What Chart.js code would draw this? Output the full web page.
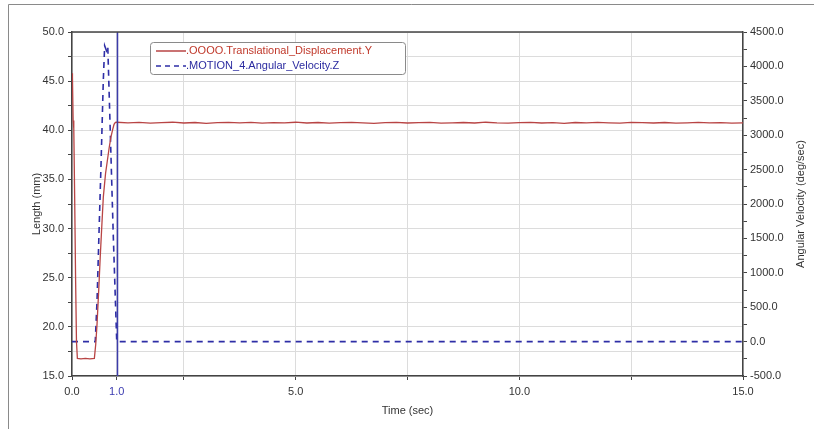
<!DOCTYPE html>
<html>
<head>
<meta charset="utf-8">
<script src="https://cdn.jsdelivr.net/npm/chart.js@4/dist/chart.umd.min.js"></script>
<style>
  html, body { margin: 0; padding: 0; background: #fff; }
  #wrap { position: relative; width: 814px; height: 429px; }
</style>
</head>
<body>
<div id="wrap"><canvas id="motionChart"></canvas></div>
<script>
// displacement (mm) vs time (sec)
const dispTime = [0, 0.01, 0.025, 0.04, 0.06, 0.08, 0.1, 0.12, 0.2, 0.3, 0.4, 0.5,
  0.53, 0.56, 0.6, 0.63, 0.67, 0.7, 0.75, 0.79, 0.83, 0.87, 0.91, 0.94, 0.97, 1.0,
  1.25, 1.5, 1.75, 2.0, 2.25, 2.5, 2.75, 3.0, 3.25, 3.5, 3.75, 4.0, 4.25, 4.5, 4.75, 5.0,
  5.25, 5.5, 5.75, 6.0, 6.25, 6.5, 6.75, 7.0, 7.25, 7.5, 7.75, 8.0, 8.25, 8.5, 8.75, 9.0,
  9.25, 9.5, 9.75, 10.0, 10.25, 10.5, 10.75, 11.0, 11.25, 11.5, 11.75, 12.0, 12.25, 12.5,
  12.75, 13.0, 13.25, 13.5, 13.75, 14.0, 14.25, 14.5, 14.75, 15.0];
const dispValue = [45.8, 45.4, 41.0, 40.2, 33.0, 25.0, 18.5, 16.8, 16.75, 16.8, 16.75, 16.8,
  18.2, 20.3, 24.0, 27.0, 30.6, 33.2, 35.6, 36.9, 38.2, 39.3, 40.1, 40.6, 40.8, 40.82,
  40.76, 40.8, 40.72, 40.78, 40.82, 40.74, 40.79, 40.71, 40.77, 40.81, 40.75, 40.8, 40.73, 40.78,
  40.76, 40.82, 40.74, 40.79, 40.72, 40.77, 40.8, 40.75, 40.71, 40.78, 40.81, 40.74, 40.77, 40.8,
  40.73, 40.76, 40.79, 40.74, 40.82, 40.75, 40.72, 40.78, 40.8, 40.74, 40.77, 40.71, 40.79, 40.75,
  40.81, 40.76, 40.73, 40.8, 40.77, 40.74, 40.79, 40.72, 40.76, 40.8, 40.75, 40.78, 40.73, 40.76];

// angular velocity (deg/sec) vs time (sec)
const velTime = [0, 0.52, 0.56, 0.6, 0.65, 0.7, 0.73, 0.77, 0.8, 0.84, 0.88, 0.92, 0.96, 1.0, 15.0];
const velValue = [0, 0, 600, 1500, 2600, 3800, 4300, 4230, 4290, 3400, 2500, 1600, 800, 0, 0];

const xTicks = [0, 1, 2.5, 5, 7.5, 10, 12.5, 15];
const xLabels = [0, 1, 5, 10, 15];
const cursorTime = 1.0;

const FONT = "'Liberation Sans', Arial, sans-serif";
const RED = '#b84444';
const BLUE = '#2e2ea6';

const toPoints = (xs, ys) => xs.map((x, i) => ({ x, y: ys[i] }));

const frameAndLegend = {
  id: 'frameAndLegend',
  beforeDraw(chart) {
    const c = chart.ctx;
    c.save();
    c.fillStyle = '#fff';
    c.fillRect(0, 0, chart.width, chart.height);
    c.strokeStyle = '#8a8a8a';
    c.lineWidth = 1;
    c.beginPath();
    c.moveTo(8.5, chart.height);
    c.lineTo(8.5, 4.5);
    c.lineTo(chart.width, 4.5);
    c.stroke();
    c.restore();
  },
  afterDatasetsDraw(chart) {
    const c = chart.ctx;
    const { top, bottom, left, right } = chart.chartArea;
    const x1 = Math.round(chart.scales.x.getPixelForValue(cursorTime)) + 0.5;
    c.save();
    // cursor line
    c.strokeStyle = '#3c3caa';
    c.lineWidth = 1.5;
    c.beginPath();
    c.moveTo(x1, top);
    c.lineTo(x1, bottom);
    c.stroke();
    // top border of plot
    c.strokeStyle = '#444';
    c.lineWidth = 1.5;
    c.beginPath();
    c.moveTo(left, top);
    c.lineTo(right, top);
    c.stroke();

    // legend box
    const bx = 150.5, by = 42.5, bw = 255, bh = 32;
    c.fillStyle = '#fff';
    c.strokeStyle = '#8a8a8a';
    c.lineWidth = 1;
    c.beginPath();
    c.roundRect(bx, by, bw, bh, 3);
    c.fill();
    c.stroke();
    c.font = '11px ' + FONT;
    c.textBaseline = 'middle';
    c.textAlign = 'left';
    c.strokeStyle = RED;
    c.lineWidth = 1.5;
    c.beginPath();
    c.moveTo(156, 51); c.lineTo(186, 51);
    c.stroke();
    c.fillStyle = '#c0392b';
    c.fillText('.OOOO.Translational_Displacement.Y', 186, 51);
    c.strokeStyle = BLUE;
    c.setLineDash([5, 4]);
    c.beginPath();
    c.moveTo(156, 66); c.lineTo(186, 66);
    c.stroke();
    c.setLineDash([]);
    c.fillStyle = '#2b2ba0';
    c.fillText('.MOTION_4.Angular_Velocity.Z', 186, 66);

    // right axis title, reading bottom to top
    c.translate(801, (top + bottom) / 2);
    c.rotate(-Math.PI / 2);
    c.textAlign = 'center';
    c.fillStyle = '#333';
    c.fillText('Angular Velocity (deg/sec)', 0, 0);
    c.restore();
  }
};

new Chart(document.getElementById('motionChart'), {
  type: 'line',
  data: {
    datasets: [
      {
        label: '.OOOO.Translational_Displacement.Y',
        data: toPoints(dispTime, dispValue),
        yAxisID: 'y',
        borderColor: RED,
        borderWidth: 1.3,
        pointRadius: 0,
        tension: 0
      },
      {
        label: '.MOTION_4.Angular_Velocity.Z',
        data: toPoints(velTime, velValue),
        yAxisID: 'y2',
        borderColor: BLUE,
        borderWidth: 1.6,
        borderDash: [6, 5],
        pointRadius: 0,
        tension: 0
      }
    ]
  },
  options: {
    responsive: true,
    maintainAspectRatio: false,
    animation: false,
    layout: { padding: { top: 32, left: 0, right: 0, bottom: 0 } },
    plugins: { legend: { display: false }, tooltip: { enabled: false } },
    scales: {
      x: {
        type: 'linear',
        min: 0,
        max: 15,
        afterBuildTicks: s => { s.ticks = xTicks.map(v => ({ value: v })); },
        afterFit: s => { s.height = 53; },
        ticks: {
          autoSkip: false,
          maxRotation: 0,
          padding: 5,
          font: { family: FONT, size: 11 },
          color: ctx => ctx.tick && ctx.tick.value === cursorTime ? '#3a3ab0' : '#333',
          callback: v => xLabels.includes(v) ? v.toFixed(1) : ''
        },
        grid: { color: '#dcdcdc', tickColor: '#444', tickLength: 4 },
        border: { color: '#444', width: 1.5 },
        title: { display: true, text: 'Time (sec)', color: '#333', font: { family: FONT, size: 11 }, padding: { top: 0, bottom: 11 } }
      },
      y: {
        position: 'left',
        min: 15,
        max: 50,
        afterFit: s => { s.width = 72; },
        ticks: {
          stepSize: 2.5,
          autoSkip: false,
          padding: 4,
          font: { family: FONT, size: 11 },
          color: '#333',
          callback: v => v % 5 === 0 ? v.toFixed(1) : ''
        },
        grid: { color: '#dcdcdc', tickColor: '#444', tickLength: 4 },
        border: { color: '#444', width: 1.5 },
        title: { display: true, text: 'Length (mm)', color: '#333', font: { family: FONT, size: 11 }, padding: { top: 30, bottom: 0 } }
      },
      y2: {
        position: 'right',
        min: -500,
        max: 4500,
        afterFit: s => { s.width = 71; },
        ticks: {
          stepSize: 250,
          autoSkip: false,
          padding: 3,
          font: { family: FONT, size: 11 },
          color: '#333',
          callback: v => v % 500 === 0 ? v.toFixed(1) : ''
        },
        grid: { drawOnChartArea: false, tickColor: '#444', tickLength: 4 },
        border: { color: '#444', width: 1.5 }
      }
    }
  },
  plugins: [frameAndLegend]
});
</script>
</body>
</html>
